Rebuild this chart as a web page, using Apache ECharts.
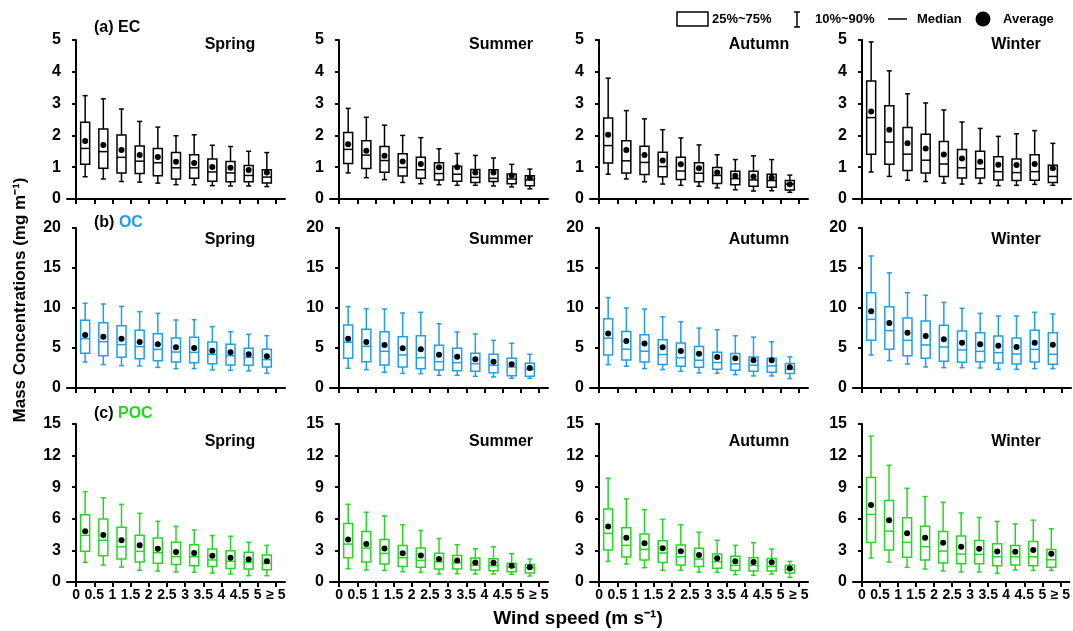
<!DOCTYPE html>
<html><head><meta charset="utf-8">
<script src="https://cdn.jsdelivr.net/npm/echarts@6/dist/echarts.min.js"></script>
<style>html,body{margin:0;padding:0;background:#fff}#c{width:1073px;height:631px}</style>
</head><body><div id="c"></div>
<script>
// Tick labels of the wind-speed axis (boundaries between bins)
const windLabels = ['0','0.5','1','1.5','2','2.5','3','3.5','4','4.5','5','\u2265 5'];
const seasons = ['Spring','Summer','Autumn','Winter'];
// Each row: [p10, p25, median, p75, p90, mean] for one wind-speed bin
const EC_SPRING = [
  [0.70,1.09,1.59,2.41,3.25,1.82],[0.63,0.97,1.49,2.20,3.15,1.70],[0.55,0.82,1.31,2.01,2.83,1.54],
  [0.53,0.80,1.19,1.67,2.44,1.38],[0.50,0.73,1.14,1.59,2.26,1.32],[0.45,0.63,0.98,1.46,1.99,1.17],
  [0.45,0.65,0.98,1.39,2.02,1.13],[0.42,0.56,0.85,1.26,1.69,1.01],[0.41,0.54,0.82,1.18,1.65,0.98],
  [0.41,0.54,0.74,1.05,1.50,0.91],[0.39,0.50,0.69,0.92,1.46,0.83]];
const EC_SUMMER = [
  [0.82,1.12,1.56,2.09,2.85,1.72],[0.67,0.96,1.38,1.83,2.57,1.52],[0.61,0.84,1.21,1.65,2.32,1.36],
  [0.52,0.72,0.99,1.42,2.00,1.18],[0.48,0.65,0.92,1.31,1.93,1.10],[0.45,0.60,0.80,1.14,1.58,1.00],
  [0.43,0.56,0.78,1.03,1.43,1.00],[0.43,0.52,0.68,0.93,1.37,0.83],[0.41,0.55,0.65,0.92,1.29,0.83],
  [0.38,0.48,0.63,0.79,1.09,0.74],[0.32,0.42,0.60,0.73,0.94,0.67]];
const EC_AUTUMN = [
  [0.78,1.13,1.68,2.55,3.80,2.02],[0.63,0.82,1.20,1.83,2.78,1.54],[0.54,0.77,1.15,1.66,2.52,1.38],
  [0.47,0.70,1.02,1.47,2.18,1.21],[0.43,0.61,0.88,1.31,1.92,1.09],[0.40,0.54,0.81,1.14,1.70,0.97],
  [0.35,0.49,0.74,0.99,1.39,0.83],[0.29,0.45,0.64,0.87,1.24,0.73],[0.25,0.40,0.60,0.87,1.36,0.71],
  [0.26,0.37,0.58,0.78,1.24,0.67],[0.21,0.28,0.47,0.58,0.75,0.46]];
const EC_WINTER = [
  [0.85,1.41,2.56,3.71,4.94,2.75],[0.71,1.09,1.79,2.93,4.03,2.18],[0.59,0.90,1.41,2.25,3.31,1.75],
  [0.55,0.82,1.22,2.04,3.02,1.59],[0.50,0.71,1.10,1.81,2.80,1.40],[0.47,0.66,0.98,1.56,2.42,1.27],
  [0.49,0.66,0.95,1.50,2.22,1.17],[0.42,0.60,0.86,1.33,1.97,1.08],[0.43,0.58,0.83,1.26,2.05,1.07],
  [0.46,0.59,0.86,1.39,2.15,1.10],[0.43,0.52,0.71,1.06,1.75,0.97]];
const OC_SPRING = [
  [3.25,4.33,6.17,8.46,10.6,6.63],[2.92,4.04,5.79,8.17,10.5,6.42],[2.79,3.83,5.42,7.79,10.2,6.17],
  [2.75,3.67,5.17,7.21,9.54,5.75],[2.58,3.42,4.83,6.79,9.33,5.46],[2.42,3.25,4.50,6.25,8.50,5.08],
  [2.42,3.17,4.46,6.33,8.54,5.00],[2.25,3.04,4.21,5.75,7.67,4.67],[2.21,2.88,4.04,5.46,7.04,4.46],
  [2.13,2.83,3.83,4.96,6.71,4.21],[1.83,2.63,3.54,4.83,6.54,3.96]];
const OC_SUMMER = [
  [2.46,3.71,5.71,7.88,10.17,6.17],[2.29,3.29,5.21,7.33,9.92,5.75],[1.96,2.88,4.58,7.04,9.88,5.38],
  [1.83,2.63,4.13,6.42,9.38,4.96],[1.79,2.42,3.79,6.54,9.46,4.83],[1.58,2.25,3.29,5.33,8.04,4.17],
  [1.58,2.17,3.17,4.96,7.00,3.92],[1.46,2.08,3.04,4.33,6.75,3.58],[1.38,1.92,2.83,4.21,5.96,3.29],
  [1.21,1.54,2.63,3.71,5.58,2.96],[1.21,1.46,2.33,3.08,4.21,2.50]];
const OC_AUTUMN = [
  [2.93,4.14,6.23,8.66,11.3,6.82],[2.72,3.51,4.85,7.07,10.0,5.86],[2.43,3.26,4.60,6.65,9.87,5.56],
  [2.30,2.93,4.18,6.02,8.91,5.10],[2.09,2.72,3.77,5.61,8.28,4.64],[1.88,2.59,3.47,5.19,7.49,4.27],
  [1.84,2.34,3.18,4.48,7.28,3.89],[1.67,2.22,3.01,4.31,6.53,3.72],[1.51,2.09,2.85,3.89,6.36,3.47],
  [1.51,1.97,2.76,3.72,5.77,3.47],[1.17,1.80,2.34,3.05,3.89,2.59]];
const OC_WINTER = [
  [4.13,5.96,8.58,11.92,16.5,9.58],[3.42,4.83,7.17,10.17,14.4,8.13],[3.00,4.04,5.96,8.75,11.92,6.92],
  [2.63,3.71,5.38,8.38,11.6,6.50],[2.54,3.33,5.13,7.83,10.7,6.08],[2.54,3.21,4.75,7.13,9.96,5.67],
  [2.50,3.29,4.58,6.92,9.33,5.46],[2.33,3.13,4.42,6.50,9.00,5.29],[2.33,3.00,4.25,6.25,9.00,5.13],
  [2.42,3.25,4.83,7.21,9.46,5.67],[2.42,2.96,4.21,6.92,9.25,5.42]];
const POC_SPRING = [
  [1.87,2.91,4.43,6.39,8.58,4.81],[1.61,2.50,3.96,5.98,8.00,4.46],[1.42,2.18,3.35,5.19,7.37,3.96],
  [1.11,1.90,2.91,4.43,6.52,3.48],[1.04,1.77,2.78,4.18,5.76,3.16],[0.95,1.65,2.41,3.77,5.28,2.85],
  [0.92,1.55,2.41,3.54,4.94,2.75],[0.85,1.46,2.09,3.13,4.40,2.50],[0.76,1.27,1.96,2.97,4.34,2.31],
  [0.60,1.23,1.87,2.82,3.77,2.15],[0.60,1.17,1.77,2.56,3.48,1.96]];
const POC_SUMMER = [
  [1.26,2.30,3.60,5.55,7.38,4.04],[1.14,1.89,3.22,4.80,6.62,3.60],[1.10,1.70,2.71,4.04,6.28,3.19],
  [0.98,1.48,2.30,3.47,5.43,2.74],[0.91,1.39,2.05,3.22,4.89,2.52],[0.76,1.23,1.92,2.74,4.13,2.18],
  [0.79,1.23,1.83,2.52,3.53,2.05],[0.76,1.14,1.58,2.27,3.15,1.86],[0.76,1.07,1.55,2.21,3.34,1.83],
  [0.73,0.98,1.39,1.77,2.68,1.55],[0.57,0.85,1.36,1.67,2.18,1.39]];
const POC_AUTUMN = [
  [1.96,3.04,4.62,6.92,9.85,5.28],[1.71,2.37,3.48,5.16,7.89,4.21],[1.36,2.09,3.10,4.56,6.87,3.67],
  [1.11,1.84,2.75,3.92,5.95,3.20],[1.11,1.61,2.40,3.51,5.44,2.91],[0.92,1.46,2.18,3.20,4.72,2.56],
  [0.92,1.30,1.93,2.66,3.96,2.25],[0.70,1.08,1.58,2.44,3.48,1.96],[0.63,1.04,1.58,2.31,3.73,1.90],
  [0.76,1.04,1.49,2.22,3.13,1.87],[0.44,0.85,1.20,1.58,1.96,1.27]];
const POC_WINTER = [
  [2.27,3.76,6.41,9.91,13.86,7.32],[1.89,3.03,4.83,7.73,11.08,5.87],[1.39,2.34,3.76,6.09,8.90,4.64],
  [1.23,2.08,3.35,5.30,8.11,4.20],[1.04,1.80,2.94,4.80,7.57,3.73],[0.95,1.74,2.65,4.36,6.56,3.35],
  [0.95,1.74,2.62,3.95,6.12,3.16],[0.82,1.55,2.40,3.63,5.74,2.90],[1.14,1.61,2.40,3.47,5.52,2.87],
  [1.10,1.55,2.40,3.85,5.87,3.03],[1.10,1.39,2.11,3.09,5.05,2.68]];

const rows = [
  {panels:[EC_SPRING,EC_SUMMER,EC_AUTUMN,EC_WINTER], color:'#000000', max:5, interval:1},
  {panels:[OC_SPRING,OC_SUMMER,OC_AUTUMN,OC_WINTER], color:'#1E9EF0', max:20, interval:5},
  {panels:[POC_SPRING,POC_SUMMER,POC_AUTUMN,POC_WINTER], color:'#22D822', max:15, interval:3}
];
const colLeft = [67, 330, 590, 853];
const gridW = 218;
const rowTop = [40, 228, 424];
const rowH = [159, 160, 158];
const seasonX = [230, 501, 759, 1016];
const seasonY = [45, 240, 442];

function boxRenderer(color) {
  return function (params, api) {
    const x = api.value(0);
    const p10 = api.coord([x, api.value(1)]);
    const p25 = api.coord([x, api.value(2)]);
    const med = api.coord([x, api.value(3)]);
    const p75 = api.coord([x, api.value(4)]);
    const p90 = api.coord([x, api.value(5)]);
    const mean = api.coord([x, api.value(6)]);
    const cx = p10[0], bw = 9, cw = 5;
    const st = {stroke: color, lineWidth: 1.5};
    return {type: 'group', children: [
      {type:'line', shape:{x1:cx, y1:p90[1], x2:cx, y2:p75[1]}, style:st},
      {type:'line', shape:{x1:cx, y1:p25[1], x2:cx, y2:p10[1]}, style:st},
      {type:'line', shape:{x1:cx-cw/2, y1:p90[1], x2:cx+cw/2, y2:p90[1]}, style:st},
      {type:'line', shape:{x1:cx-cw/2, y1:p10[1], x2:cx+cw/2, y2:p10[1]}, style:st},
      {type:'rect', shape:{x:cx-bw/2, y:p75[1], width:bw, height:p25[1]-p75[1]}, style:{stroke:color, lineWidth:1.5, fill:'#fff'}},
      {type:'line', shape:{x1:cx-bw/2, y1:med[1], x2:cx+bw/2, y2:med[1]}, style:st},
      {type:'circle', shape:{cx:cx, cy:mean[1], r:3}, style:{fill:'#000'}}
    ]};
  };
}

const grid = [], xAxis = [], yAxis = [], series = [];
const tickVals = windLabels.map((_, i) => i);
rows.forEach((row, r) => {
  row.panels.forEach((panel, c) => {
    const idx = grid.length;
    grid.push({left: colLeft[c], top: rowTop[r], width: gridW, height: rowH[r]});
    xAxis.push({
      gridIndex: idx, type: 'value', min: -0.5, max: 11.5,
      axisLine: {show: true, onZero: false, lineStyle: {color: '#000', width: 2}},
      axisTick: {show: true, length: 5, lineStyle: {color: '#000', width: 2}, customValues: tickVals},
      axisLabel: {show: r === 2, customValues: tickVals, formatter: v => windLabels[Math.round(v)],
        color: '#000', fontWeight: 'bold', fontSize: 14, fontFamily: 'Liberation Sans, Arial, sans-serif', margin: 6},
      splitLine: {show: false}
    });
    yAxis.push({
      gridIndex: idx, type: 'value', min: 0, max: row.max, interval: row.interval,
      axisLine: {show: true, lineStyle: {color: '#000', width: 2}},
      axisTick: {show: true, length: 4, lineStyle: {color: '#000', width: 2}},
      axisLabel: {color: '#000', fontWeight: 'bold', fontSize: 16, fontFamily: 'Liberation Sans, Arial, sans-serif', margin: 6},
      splitLine: {show: false}
    });
    series.push({
      type: 'custom', xAxisIndex: idx, yAxisIndex: idx, clip: false,
      renderItem: boxRenderer(row.color),
      encode: {x: 0, y: [1, 2, 3, 4, 5, 6]},
      data: panel.map((d, k) => [k + 0.5].concat(d))
    });
  });
});

const F = 'Liberation Sans, Arial, sans-serif';
const graphic = [];
seasons.forEach((s, c) => {
  seasonY.forEach(y => {
    graphic.push({type: 'text', x: seasonX[c], y: y, style: {text: s, font: 'bold 16px ' + F, fill: '#000', align: 'center', verticalAlign: 'middle'}});
  });
});
const titles = [
  {t: '(a) ', n: 'EC', col: '#000', y: 28},
  {t: '(b) ', n: 'OC', col: '#1E9EF0', y: 223},
  {t: '(c) ', n: 'POC', col: '#22D822', y: 414}
];
titles.forEach(o => {
  graphic.push({type: 'text', x: 94, y: o.y, style: {
    text: '{a|' + o.t + '}{b|' + o.n + '}', verticalAlign: 'middle',
    rich: {a: {font: 'bold 16px ' + F, fill: '#000'}, b: {font: 'bold 16px ' + F, fill: o.col}}
  }});
});
// axis titles
graphic.push({type: 'text', x: 20, y: 300, rotation: Math.PI / 2, style: {
  text: 'Mass Concentrations (mg m\u207B\u00B9)', font: 'bold 17px ' + F, fill: '#000', align: 'center', verticalAlign: 'middle'}});
graphic.push({type: 'text', x: 578, y: 619, style: {
  text: 'Wind speed (m s\u207B\u00B9)', font: 'bold 19px ' + F, fill: '#000', align: 'center', verticalAlign: 'middle'}});
// legend
const ly = 19;
graphic.push({type: 'rect', shape: {x: 677, y: 12, width: 31, height: 14}, style: {stroke: '#000', lineWidth: 1.5, fill: '#fff'}});
graphic.push({type: 'text', x: 712, y: ly, style: {text: '25%~75%', font: 'bold 13px ' + F, fill: '#000', verticalAlign: 'middle'}});
graphic.push({type: 'line', shape: {x1: 797, y1: 12, x2: 797, y2: 27}, style: {stroke: '#000', lineWidth: 1.5}});
graphic.push({type: 'line', shape: {x1: 794, y1: 12, x2: 800, y2: 12}, style: {stroke: '#000', lineWidth: 1.5}});
graphic.push({type: 'line', shape: {x1: 794, y1: 27, x2: 800, y2: 27}, style: {stroke: '#000', lineWidth: 1.5}});
graphic.push({type: 'text', x: 815, y: ly, style: {text: '10%~90%', font: 'bold 13px ' + F, fill: '#000', verticalAlign: 'middle'}});
graphic.push({type: 'line', shape: {x1: 888, y1: ly, x2: 907, y2: ly}, style: {stroke: '#000', lineWidth: 1.5}});
graphic.push({type: 'text', x: 917, y: ly, style: {text: 'Median', font: 'bold 13px ' + F, fill: '#000', verticalAlign: 'middle'}});
graphic.push({type: 'circle', shape: {cx: 983, cy: ly, r: 7.5}, style: {fill: '#000'}});
graphic.push({type: 'text', x: 1003, y: ly, style: {text: 'Average', font: 'bold 13px ' + F, fill: '#000', verticalAlign: 'middle'}});

const chart = echarts.init(document.getElementById('c'), null, {renderer: 'canvas'});
chart.setOption({animation: false, backgroundColor: '#fff', grid, xAxis, yAxis, series, graphic});
</script></body></html>
